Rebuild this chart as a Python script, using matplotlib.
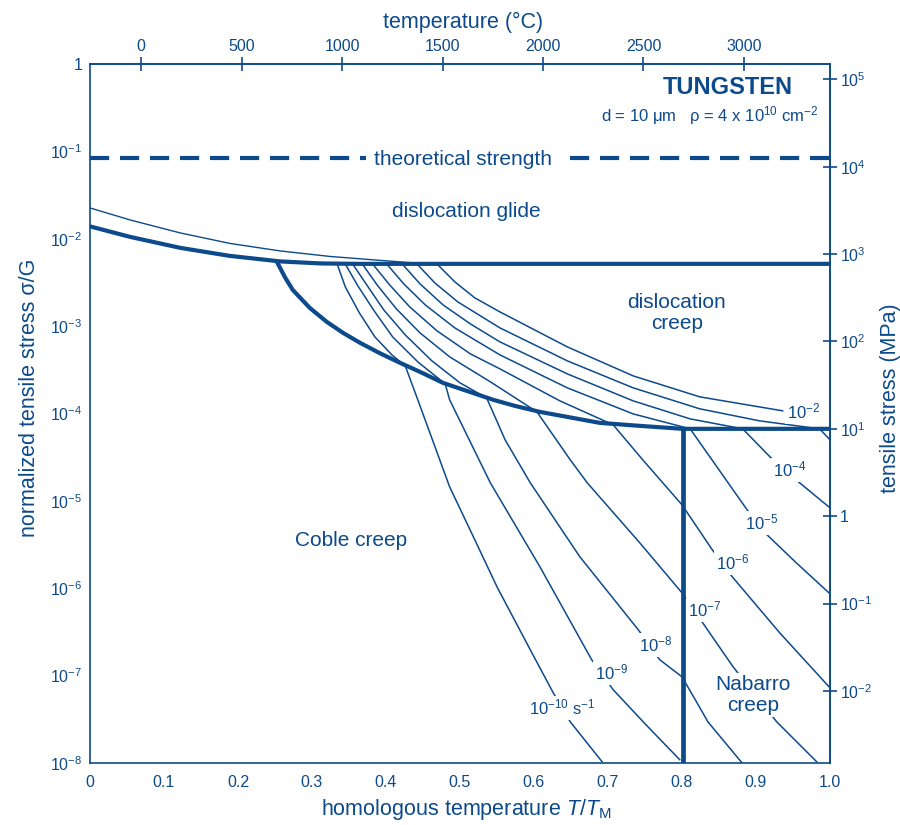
import matplotlib.pyplot as plt
import numpy as np
from matplotlib.ticker import NullLocator

plt.rcParams['font.family'] = ['Liberation Sans', 'DejaVu Sans']
plt.rcParams['mathtext.fontset'] = 'custom'
plt.rcParams['mathtext.rm'] = 'Liberation Sans'
plt.rcParams['mathtext.it'] = 'Liberation Sans:italic'
plt.rcParams['mathtext.bf'] = 'Liberation Sans:bold'

BLUE = '#0c4a8c'

# homologous temperature T/TM and log10(sigma/G)
glide_thin_T = [0, 0.054, 0.122, 0.189, 0.257, 0.324, 0.392, 0.446, 0.47]
glide_thin_L = [-1.648, -1.785, -1.934, -2.054, -2.140, -2.203, -2.248, -2.283, -2.288]

glide_thick_T = [0, 0.054, 0.122, 0.189, 0.257, 0.311, 0.36, 1.0]
glide_thick_L = [-1.859, -1.979, -2.105, -2.197, -2.260, -2.283, -2.288, -2.288]

coble_T = [0.254, 0.264, 0.274, 0.297, 0.320, 0.342, 0.365, 0.392, 0.419, 0.446, 0.477,
           0.545, 0.574, 0.608, 0.689, 0.743, 0.801, 1.0]
coble_L = [-2.288, -2.449, -2.586, -2.792, -2.952, -3.078, -3.192, -3.312, -3.421, -3.524, -3.650,
           -3.844, -3.913, -3.982, -4.108, -4.142, -4.176, -4.176]

nabarro_T = [0.801, 0.801]
nabarro_L = [-4.176, -8.0]

theory_L = -1.0755

# strain-rate contours 1e-2 ... 1e-10 s^-1
rates = [-2, -3, -4, -5, -6, -7, -8, -9, -10]
contour_T = [
    [0.469, 0.493, 0.520, 0.554, 0.645, 0.734, 0.824, 0.936],
    [0.442, 0.466, 0.497, 0.554, 0.645, 0.734, 0.824, 0.905, 0.986, 1.0],
    [0.422, 0.446, 0.477, 0.514, 0.554, 0.645, 0.734, 0.811, 0.882, 0.919, 0.959, 1.0],
    [0.401, 0.424, 0.453, 0.493, 0.554, 0.645, 0.734, 0.811, 0.851, 0.888, 0.915, 0.953, 1.0],
    [0.382, 0.405, 0.432, 0.469, 0.514, 0.554, 0.635, 0.707, 0.747, 0.800, 0.841, 0.868, 0.932, 1.0],
    [0.368, 0.388, 0.414, 0.446, 0.486, 0.541, 0.604, 0.649, 0.672, 0.743, 0.800, 0.827, 0.869,
     0.899, 0.928, 0.982],
    [0.355, 0.374, 0.397, 0.426, 0.462, 0.500, 0.536, 0.561, 0.595, 0.662, 0.741, 0.770, 0.800,
     0.818, 0.835, 0.881],
    [0.345, 0.362, 0.384, 0.409, 0.443, 0.480, 0.486, 0.541, 0.608, 0.678, 0.707, 0.750, 0.797],
    [0.334, 0.345, 0.364, 0.385, 0.408, 0.426, 0.443, 0.486, 0.520, 0.550, 0.595, 0.626, 0.649, 0.692],
]
contour_L = [
    [-2.29, -2.494, -2.677, -2.838, -3.238, -3.570, -3.810, -3.970],
    [-2.29, -2.506, -2.723, -3.021, -3.398, -3.707, -3.947, -4.085, -4.176, -4.302],
    [-2.29, -2.517, -2.757, -2.975, -3.181, -3.547, -3.856, -4.062, -4.176, -4.497, -4.794, -5.080],
    [-2.29, -2.517, -2.757, -3.021, -3.330, -3.707, -4.005, -4.176, -4.657, -5.103, -5.389, -5.698,
     -6.064],
    [-2.29, -2.529, -2.780, -3.055, -3.318, -3.490, -3.856, -4.130, -4.531, -5.046, -5.561, -5.870,
     -6.510, -7.140],
    [-2.29, -2.529, -2.803, -3.078, -3.352, -3.638, -3.982, -4.531, -4.794, -5.481, -6.053, -6.384,
     -6.899, -7.220, -7.529, -7.986],
    [-2.29, -2.529, -2.815, -3.101, -3.398, -3.650, -3.822, -4.302, -4.794, -5.641, -6.476, -6.819,
     -7.014, -7.277, -7.529, -7.998],
    [-2.29, -2.540, -2.826, -3.124, -3.410, -3.661, -3.844, -4.794, -5.755, -6.819, -7.162, -7.551,
     -7.963],
    [-2.29, -2.551, -2.849, -3.124, -3.330, -3.455, -3.844, -4.840, -5.446, -5.984, -6.705, -7.197,
     -7.529, -7.986],
]

x_ticks = [0, 0.1, 0.2, 0.3, 0.4, 0.5, 0.6, 0.7, 0.8, 0.9, 1.0]
x_labels = ['0', '0.1', '0.2', '0.3', '0.4', '0.5', '0.6', '0.7', '0.8', '0.9', '1.0']
y_ticks = [1e-8, 1e-7, 1e-6, 1e-5, 1e-4, 1e-3, 1e-2, 1e-1, 1]
y_labels = ['$10^{-8}$', '$10^{-7}$', '$10^{-6}$', '$10^{-5}$', '$10^{-4}$',
            '$10^{-3}$', '$10^{-2}$', '$10^{-1}$', '1']
celsius_ticks = [0, 500, 1000, 1500, 2000, 2500, 3000]
mpa_ticks = [1e-2, 1e-1, 1, 1e1, 1e2, 1e3, 1e4, 1e5]
mpa_labels = ['$10^{-2}$', '$10^{-1}$', '1', '$10^{1}$', '$10^{2}$', '$10^{3}$', '$10^{4}$', '$10^{5}$']

fig = plt.figure(figsize=(9, 8.25), dpi=100)
ax = fig.add_axes([0.1, 0.0752, 0.8222, 0.8473])
ax.set_xlim(0, 1)
ax.set_yscale('log')
ax.set_ylim(1e-8, 1)

# boundaries
ax.plot([0, 1], [10 ** theory_L] * 2, color=BLUE, lw=3.0, dashes=(4.6, 2.6), solid_capstyle='butt')
ax.plot(glide_thin_T, 10 ** np.array(glide_thin_L), color=BLUE, lw=1.0)
for T, L in zip(contour_T, contour_L):
    ax.plot(T, 10 ** np.array(L), color=BLUE, lw=1.1)
ax.plot(glide_thick_T, 10 ** np.array(glide_thick_L), color=BLUE, lw=3.0)
ax.plot(coble_T, 10 ** np.array(coble_L), color=BLUE, lw=3.0, solid_joinstyle='round')
ax.plot(nabarro_T, 10 ** np.array(nabarro_L), color=BLUE, lw=3.4)

box = dict(facecolor='white', edgecolor='none', pad=1.5)

# region labels
ax.text(0.504, 10 ** -1.098, 'theoretical strength', ha='center', va='center', fontsize=15,
        color=BLUE, bbox=dict(facecolor='white', edgecolor='none', pad=6))
ax.text(0.509, 10 ** -1.693, 'dislocation glide', ha='center', va='center', fontsize=15, color=BLUE)
ax.text(0.793, 10 ** -2.849, 'dislocation\ncreep', ha='center', va='center', fontsize=15,
        color=BLUE, linespacing=1.15)
ax.text(0.353, 10 ** -5.458, 'Coble creep', ha='center', va='center', fontsize=15, color=BLUE)
ax.text(0.896, 10 ** -7.22, 'Nabarro\ncreep', ha='center', va='center', fontsize=15,
        color=BLUE, linespacing=1.15, bbox=box)
ax.text(0.950, 10 ** -0.275, 'TUNGSTEN', ha='right', va='center', fontsize=17,
        fontweight='bold', color=BLUE)
ax.text(0.984, 10 ** -0.595, 'd = 10 μm   ρ = 4 x 10$^{10}$ cm$^{-2}$', ha='right', va='center',
        fontsize=12, color=BLUE)

# contour labels
rate_labels = [
    ('$10^{-2}$', 0.964, -3.982),
    ('$10^{-4}$', 0.946, -4.645),
    ('$10^{-5}$', 0.908, -5.252),
    ('$10^{-6}$', 0.868, -5.709),
    ('$10^{-7}$', 0.831, -6.247),
    ('$10^{-8}$', 0.764, -6.648),
    ('$10^{-9}$', 0.705, -6.968),
    ('$10^{-10}$ s$^{-1}$', 0.638, -7.368),
]
for txt, tx, ty in rate_labels:
    ax.text(tx, 10 ** ty, txt, ha='center', va='center', fontsize=12, color=BLUE, bbox=box)

# axes styling
for s in ax.spines.values():
    s.set_color(BLUE)
    s.set_linewidth(1.2)
ax.set_xticks(x_ticks, x_labels)
ax.set_yticks(y_ticks, y_labels)
ax.yaxis.set_minor_locator(NullLocator())
ax.tick_params(axis='x', length=0, labelsize=11.5, colors=BLUE, pad=9)
ax.tick_params(axis='y', length=0, labelsize=11.5, colors=BLUE, pad=5.5)
ax.set_xlabel('homologous temperature $T/T_\\mathrm{M}$', fontsize=15.5, color=BLUE)
ax.xaxis.set_label_coords(0.508, -0.049)
ax.set_ylabel('normalized tensile stress σ/G', fontsize=15.5, color=BLUE)
ax.yaxis.set_label_coords(-0.067, 0.522)

top = ax.secondary_xaxis('top', functions=(lambda t: 3682 * t - 254, lambda c: (c + 254) / 3682))
top.set_xticks(celsius_ticks)
top.tick_params(direction='inout', length=10, width=1.2, colors=BLUE, labelsize=11.5, pad=2)
top.spines['top'].set_color(BLUE)
top.spines['top'].set_linewidth(1.2)
top.set_xlabel('temperature (°C)', fontsize=15.5, color=BLUE)
top.xaxis.set_label_coords(0.504, 1.0515, transform=ax.transAxes)

right = ax.secondary_yaxis('right', functions=(lambda s: s * 1.5e5, lambda m: m / 1.5e5))
right.set_yticks(mpa_ticks, mpa_labels)
right.yaxis.set_minor_locator(NullLocator())
right.tick_params(direction='inout', length=10, width=1.2, colors=BLUE, labelsize=11.5, pad=2)
right.spines['right'].set_color(BLUE)
right.spines['right'].set_linewidth(1.2)
right.set_ylabel('tensile stress (MPa)', fontsize=15.5, color=BLUE)
right.yaxis.set_label_coords(1.068, 0.522, transform=ax.transAxes)

fig.savefig('out.png', dpi=100)
